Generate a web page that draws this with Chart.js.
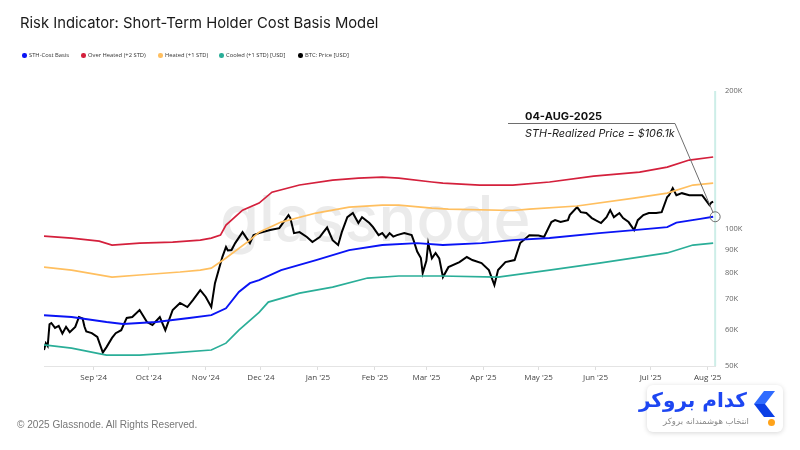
<!DOCTYPE html>
<html><head><meta charset="utf-8">
<script src="https://cdn.jsdelivr.net/npm/chart.js@4.4.1/dist/chart.umd.min.js"></script>
<style>
html,body{margin:0;padding:0;background:#fff;}
body{width:800px;height:450px;overflow:hidden;position:relative;font-family:Inter,"DejaVu Sans",sans-serif;}
#c{position:absolute;left:0;top:0;}
#title{position:absolute;left:20px;top:14px;font:14.8px Inter,sans-serif;color:#1a1a1a;white-space:nowrap;}
.lg{position:absolute;top:51px;font:5.8px "Open Sans",sans-serif;color:#333;white-space:nowrap;line-height:8px;}
.lg i{display:inline-block;width:4.5px;height:4.5px;border-radius:50%;margin-right:2.5px;vertical-align:-0.5px;}
#copy{position:absolute;left:17px;top:419px;font:10.1px "Liberation Sans",Arial,sans-serif;color:#777;white-space:nowrap;}
#brand{position:absolute;left:647px;top:385px;width:136px;height:47px;background:#fff;border-radius:6px;box-shadow:0 1px 5px rgba(0,0,0,0.16);}
#brand .b1{position:absolute;right:36px;top:3px;font:bold 20px "DejaVu Sans",sans-serif;color:#1d46f2;direction:rtl;white-space:nowrap;}
#brand .b2{position:absolute;right:34px;top:31px;font:8.5px "DejaVu Sans",sans-serif;color:#8a8a8a;direction:rtl;white-space:nowrap;}
#brand svg{position:absolute;left:107px;top:6px;}
#brand .dot{position:absolute;left:121px;top:34px;width:7px;height:7px;border-radius:50%;background:#ffa31a;}
</style>
</head><body>
<canvas id="c" width="800" height="450"></canvas>
<div id="title">Risk Indicator: Short-Term Holder Cost Basis Model</div>
<div id="copy">© 2025 Glassnode. All Rights Reserved.</div>
<div id="brand">
  <div class="b1">کدام بروکر</div>
  <div class="b2">انتخاب هوشمندانه بروکر</div>
  <svg width="22" height="26" viewBox="0 0 22 26"><polygon points="10,0 21,0 11,13 0,13" fill="#2f6bff"/><polygon points="0,13 11,13 21,26 10,26" fill="#0b3fe6"/></svg>
  <div class="dot"></div>
</div>
<script>
// ---------- DATA ----------
const startDate = '2024-08-05';
const endDate = '2025-08-05';
const monthTickDates = ['2024-09-01','2024-10-01','2024-11-01','2024-12-01','2025-01-01','2025-02-01','2025-03-01','2025-04-01','2025-05-01','2025-06-01','2025-07-01','2025-08-01'];
const monthLabels = ["Sep '24","Oct '24","Nov '24","Dec '24","Jan '25","Feb '25","Mar '25","Apr '25","May '25","Jun '25","Jul '25","Aug '25"];
const yTicks = [50000,60000,70000,80000,90000,100000,200000];
const yTickLabels = ['50K','60K','70K','80K','90K','100K','200K'];
const seriesNames = ['STH-Cost Basis','Over Heated (+2 STD)','Heated (+1 STD)','Cooled (+1 STD) [USD]','BTC: Price [USD]'];
const seriesColors = ['#0a14f5','#d4203c','#ffbf5f','#2aae98','#000000'];

const sthDates = ['2024-08-05','2024-08-20','2024-09-08','2024-09-17','2024-10-05','2024-10-23','2024-11-04','2024-11-12','2024-11-19','2024-11-25','2024-11-30','2024-12-12','2024-12-31','2025-01-18','2025-02-05','2025-02-24','2025-03-10','2025-03-31','2025-04-17','2025-05-07','2025-06-03','2025-06-22','2025-07-10','2025-07-15','2025-07-28','2025-08-04'];
const sthValues = [64600,64000,62400,61800,62400,63700,64600,66900,72600,75900,77100,81100,85300,89700,92000,92900,92000,92900,94300,95300,97700,99200,100700,103000,105000,106100];

const overDates = ['2024-08-05','2024-08-20','2024-09-04','2024-09-11','2024-09-26','2024-10-14','2024-10-29','2024-11-04','2024-11-09','2024-11-12','2024-11-21','2024-11-30','2024-12-07','2024-12-22','2025-01-09','2025-01-23','2025-02-05','2025-02-14','2025-03-04','2025-03-10','2025-03-30','2025-04-17','2025-05-07','2025-05-31','2025-06-25','2025-07-10','2025-07-22','2025-08-04'];
const overValues = [96200,95300,93800,92000,92900,93400,94300,95300,96700,101700,109700,113700,120100,124500,127600,128900,129600,128900,126400,125700,124500,124500,126400,130200,132900,136300,141200,143400];

const heatedDates = ['2024-08-05','2024-08-20','2024-09-11','2024-09-26','2024-10-18','2024-10-29','2024-11-04','2024-11-12','2024-11-25','2024-11-30','2024-12-12','2024-12-31','2025-01-18','2025-02-05','2025-02-14','2025-03-04','2025-03-13','2025-04-17','2025-04-26','2025-05-22','2025-06-22','2025-07-10','2025-07-24','2025-08-04'];
const heatedValues = [82300,81100,78300,79100,80300,81100,81900,86200,94300,98200,103300,108100,111400,112500,112500,110800,110300,109500,110300,112000,116600,119500,124500,125700];

const cooledDates = ['2024-08-05','2024-08-20','2024-09-08','2024-09-26','2024-10-14','2024-11-04','2024-11-12','2024-11-19','2024-11-30','2024-12-05','2024-12-22','2025-01-09','2025-01-28','2025-02-14','2025-03-09','2025-04-09','2025-05-07','2025-06-03','2025-06-22','2025-07-10','2025-07-24','2025-08-04'];
const cooledValues = [55600,54700,52800,52800,53400,54200,56100,59900,65500,69000,72200,74400,77900,78700,78700,78300,81100,84000,86200,88400,92000,92900];

const btcDates = ['2024-08-05','2024-08-06','2024-08-07','2024-08-08','2024-08-09','2024-08-11','2024-08-13','2024-08-15','2024-08-17','2024-08-19','2024-08-22','2024-08-24','2024-08-26','2024-08-27','2024-08-28','2024-08-31','2024-09-03','2024-09-06','2024-09-08','2024-09-11','2024-09-13','2024-09-16','2024-09-19','2024-09-22','2024-09-26','2024-09-30','2024-10-03','2024-10-07','2024-10-10','2024-10-14','2024-10-18','2024-10-22','2024-10-25','2024-10-29','2024-11-01','2024-11-04','2024-11-06','2024-11-10','2024-11-12','2024-11-13','2024-11-15','2024-11-17','2024-11-21','2024-11-25','2024-11-27','2024-11-30','2024-12-06','2024-12-11','2024-12-16','2024-12-17','2024-12-19','2024-12-22','2024-12-26','2024-12-29','2025-01-02','2025-01-04','2025-01-06','2025-01-09','2025-01-12','2025-01-14','2025-01-17','2025-01-20','2025-01-23','2025-01-25','2025-01-29','2025-01-31','2025-02-03','2025-02-05','2025-02-07','2025-02-09','2025-02-11','2025-02-13','2025-02-17','2025-02-21','2025-02-22','2025-02-24','2025-02-26','2025-02-27','2025-03-01','2025-03-02','2025-03-04','2025-03-06','2025-03-08','2025-03-10','2025-03-13','2025-03-19','2025-03-23','2025-03-26','2025-03-31','2025-04-04','2025-04-07','2025-04-09','2025-04-13','2025-04-18','2025-04-21','2025-04-26','2025-05-01','2025-05-04','2025-05-08','2025-05-10','2025-05-13','2025-05-17','2025-05-18','2025-05-22','2025-05-24','2025-05-27','2025-05-30','2025-06-01','2025-06-04','2025-06-07','2025-06-09','2025-06-11','2025-06-14','2025-06-16','2025-06-19','2025-06-22','2025-06-24','2025-06-27','2025-06-30','2025-07-04','2025-07-07','2025-07-10','2025-07-11','2025-07-13','2025-07-15','2025-07-18','2025-07-22','2025-07-26','2025-07-29','2025-07-31','2025-08-02','2025-08-03','2025-08-04'];
const btcValues = [54200,56100,55300,61700,62100,60600,61200,58900,60900,59300,60900,64000,63500,61000,59500,59000,57900,53500,55000,57600,59000,59900,63700,64000,66300,62400,61500,64000,59900,66300,68700,67300,69700,73300,70800,67300,75900,86600,91100,89500,89700,92900,98200,92900,96700,97700,99200,100200,107000,105400,97700,98200,95800,93400,95800,98200,100500,94300,92000,98200,105900,108100,102800,105900,102800,100700,96700,97700,95500,97700,96000,96700,97700,96700,94300,89000,86200,79900,85000,92900,86000,88400,86000,78300,82300,84400,86600,85300,84000,81100,75200,81100,84400,85300,92900,96700,96500,95800,103300,104300,103300,104300,107000,111400,108600,108100,105400,104300,102800,105900,109700,105900,108100,105400,103300,99200,104300,107000,108100,108100,108600,117200,118300,122600,118300,119500,118300,118300,118300,115400,112500,114000,114500];

const annoDate = '04-AUG-2025';
const annoText = 'STH-Realized Price = $106.1k';
const watermark = 'glassnode';

// ---------- BUILD ----------
const T0 = Date.parse(startDate);
const toDay = d => (Date.parse(d) - T0) / 864e5;
const pts = (ds, vs) => ds.map((d, i) => ({x: toDay(d), y: vs[i]}));

// legend (HTML)
const legendX = [22, 81, 158, 219, 298];
seriesNames.forEach((n, i) => {
  const el = document.createElement('div');
  el.className = 'lg';
  el.style.left = legendX[i] + 'px';
  el.innerHTML = '<i style="background:' + seriesColors[i] + '"></i>' + n;
  document.body.appendChild(el);
});

const bgPlugin = {
  id: 'bg',
  beforeDatasetsDraw(chart) {
    const {ctx, chartArea: a, scales: {x}} = chart;
    ctx.save();
    ctx.fillStyle = '#ebebeb';
    ctx.font = '500 63px Inter, sans-serif';
    ctx.textBaseline = 'alphabetic';
    ctx.fillText(watermark, 220, 241);
    const lx = x.getPixelForValue(toDay(btcDates[btcDates.length - 1])) + 2;
    ctx.strokeStyle = '#cdeee8';
    ctx.lineWidth = 2;
    ctx.beginPath(); ctx.moveTo(lx, a.top); ctx.lineTo(lx, a.bottom); ctx.stroke();
    ctx.restore();
  },
  afterDatasetsDraw(chart) {
    const {ctx, scales: {x, y}} = chart;
    const cx = x.getPixelForValue(toDay(sthDates[sthDates.length - 1])) + 2;
    const cy = y.getPixelForValue(sthValues[sthValues.length - 1]);
    ctx.save();
    ctx.strokeStyle = '#6e6e6e';
    ctx.lineWidth = 1;
    ctx.beginPath();
    ctx.moveTo(508, 123.5); ctx.lineTo(675, 123.5); ctx.lineTo(cx - 2, cy - 4);
    ctx.stroke();
    ctx.beginPath(); ctx.arc(cx, cy, 5, 0, Math.PI * 2); ctx.stroke();
    ctx.fillStyle = '#111';
    ctx.font = 'bold 11px Inter, sans-serif';
    ctx.fillText(annoDate, 525, 119.5);
    ctx.fillStyle = '#222';
    ctx.font = 'italic 10.8px Inter, "Open Sans", sans-serif';
    ctx.fillText(annoText, 525, 137);
    ctx.restore();
  }
};

const mk = (label, data, color, w) => ({label, data, borderColor: color, backgroundColor: color, borderWidth: w, pointRadius: 0, tension: 0, fill: false});

new Chart(document.getElementById('c'), {
  type: 'line',
  data: {datasets: [
    mk(seriesNames[0], pts(sthDates, sthValues), seriesColors[0], 1.9),
    mk(seriesNames[1], pts(overDates, overValues), seriesColors[1], 1.7),
    mk(seriesNames[2], pts(heatedDates, heatedValues), seriesColors[2], 1.7),
    mk(seriesNames[3], pts(cooledDates, cooledValues), seriesColors[3], 1.7),
    mk(seriesNames[4], pts(btcDates, btcValues), seriesColors[4], 2)
  ]},
  options: {
    responsive: false, animation: false, devicePixelRatio: 1,
    layout: {padding: {left: 44, top: 91, right: 0, bottom: 0}},
    plugins: {legend: {display: false}, tooltip: {enabled: false}, title: {display: false}},
    scales: {
      x: {
        type: 'linear', min: 0, max: toDay(endDate),
        afterBuildTicks: s => { s.ticks = monthTickDates.map(d => ({value: toDay(d)})); },
        afterFit: s => { s.height = 84; },
        ticks: {autoSkip: false, maxRotation: 0, color: '#444', font: {size: 8, family: 'Open Sans'}, padding: 3,
                callback: (v, i) => monthLabels[i]},
        grid: {drawOnChartArea: false, drawTicks: true, tickLength: 4, color: '#dddddd'},
        border: {display: true, color: '#e4e4e4'}
      },
      y: {
        type: 'logarithmic', position: 'right', min: 50000, max: 200000,
        afterBuildTicks: s => { s.ticks = yTicks.map(v => ({value: v})); },
        afterFit: s => { s.width = 85; },
        ticks: {color: '#666', font: {size: 7.5, family: 'Open Sans'}, padding: 10,
                callback: v => yTickLabels[yTicks.indexOf(v)]},
        grid: {display: true, drawOnChartArea: false, drawTicks: false},
        border: {display: false}
      }
    }
  },
  plugins: [bgPlugin]
});
</script>
</body></html>
